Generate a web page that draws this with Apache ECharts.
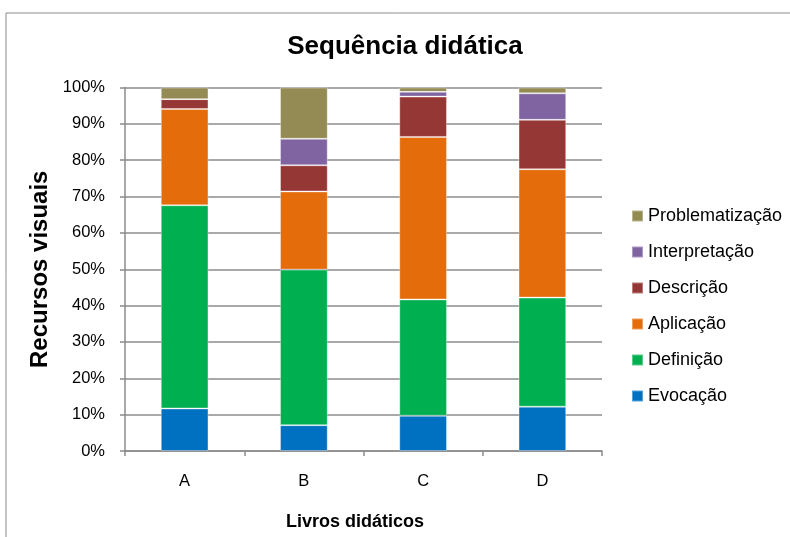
<!DOCTYPE html>
<html>
<head>
<meta charset="utf-8">
<script src="https://cdn.jsdelivr.net/npm/echarts@6/dist/echarts.min.js"></script>
<style>
  html, body { margin: 0; padding: 0; background: #fff; }
  #chart { width: 790px; height: 537px; }
</style>
</head>
<body>
<div id="chart"></div>
<script>
  // values in % of each book
  const livros = ['A', 'B', 'C', 'D'];
  const evocacao = [11.7, 7.1, 9.7, 12.2];
  const definicao = [55.9, 42.8, 32.0, 30.0];
  const aplicacao = [26.5, 21.5, 44.7, 35.3];
  const descricao = [2.7, 7.2, 11.1, 13.6];
  const interpretacao = [0, 7.3, 1.3, 7.3];
  const problematizacao = [3.2, 14.1, 1.2, 1.6];
  const yTicks = [0, 10, 20, 30, 40, 50, 60, 70, 80, 90, 100];

  const font = '"Liberation Sans", Arial, sans-serif';

  function serie(name, data, color) {
    return {
      name: name,
      type: 'bar',
      stack: 'total',
      barWidth: '40%',
      data: data,
      itemStyle: { color: color, borderColor: 'rgba(255,255,255,0.35)', borderWidth: 1 }
    };
  }

  const chart = echarts.init(document.getElementById('chart'));
  chart.setOption({
    animation: false,
    textStyle: { fontFamily: font },
    graphic: [{
      type: 'rect',
      shape: { x: 6, y: 13, width: 800, height: 540 },
      style: { fill: 'none', stroke: '#8c8c8c', lineWidth: 1 }
    }],
    title: {
      text: 'Sequência didática',
      left: 400,
      top: 29,
      textAlign: 'center',
      textStyle: { fontSize: 26, fontWeight: 'bold', color: '#000' }
    },
    legend: {
      orient: 'vertical',
      left: 631,
      top: 207,
      padding: 0,
      itemWidth: 11,
      itemHeight: 11,
      itemGap: 18,
      icon: 'rect',
      textStyle: { fontSize: 18, color: '#000', lineHeight: 18 },
      data: ['Problematização', 'Interpretação', 'Descrição', 'Aplicação', 'Definição', 'Evocação']
    },
    grid: { left: 125, right: 188, top: 87.5, bottom: 86 },
    xAxis: {
      type: 'category',
      data: livros,
      name: 'Livros didáticos',
      nameLocation: 'middle',
      nameGap: 62,
      nameTextStyle: { fontSize: 18, fontWeight: 'bold', color: '#000', padding: [0, 17, 0, 0] },
      axisLine: { lineStyle: { color: '#8c8c8c', width: 1.5 } },
      axisTick: { show: true, length: 5, lineStyle: { color: '#8c8c8c', width: 1.5 } },
      axisLabel: { fontSize: 16.5, color: '#000', margin: 22 }
    },
    yAxis: {
      type: 'value',
      min: yTicks[0],
      max: yTicks[yTicks.length - 1],
      interval: 10,
      name: 'Recursos visuais',
      nameLocation: 'middle',
      nameGap: 69,
      nameTextStyle: { fontSize: 24, fontWeight: 'bold', color: '#000' },
      axisLine: { show: true, lineStyle: { color: '#8c8c8c', width: 1.5 } },
      axisTick: { show: true, length: 5, lineStyle: { color: '#8c8c8c', width: 1.5 } },
      axisLabel: { fontSize: 16.5, color: '#000', margin: 20, formatter: '{value}%' },
      splitLine: { lineStyle: { color: '#8c8c8c', width: 1.5 } }
    },
    series: [
      serie('Evocação', evocacao, '#0070C0'),
      serie('Definição', definicao, '#00B050'),
      serie('Aplicação', aplicacao, '#E46C0A'),
      serie('Descrição', descricao, '#953735'),
      serie('Interpretação', interpretacao, '#8064A2'),
      serie('Problematização', problematizacao, '#948A54')
    ]
  });
</script>
</body>
</html>
